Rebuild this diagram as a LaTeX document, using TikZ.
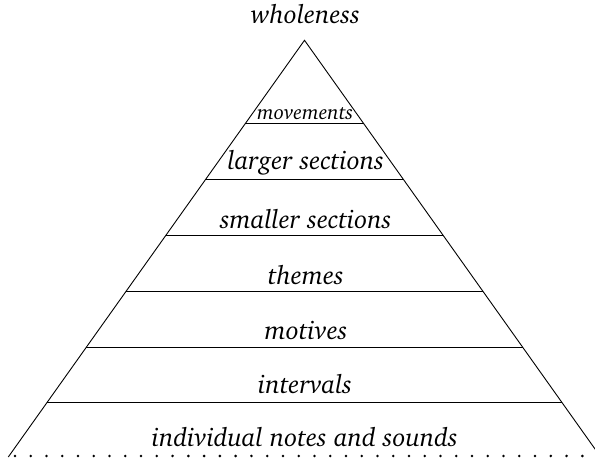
\documentclass[tikz,border=0pt]{standalone}
\usepackage[T1]{fontenc}
\usepackage{charter}
\usetikzlibrary{calc}

\tikzset{
  level/.style={font=\fontsize{26}{30}\selectfont\itshape, inner sep=0pt, anchor=base},
  small level/.style={font=\fontsize{20.5}{24}\selectfont\itshape, inner sep=0pt, anchor=base},
  divider/.style={line width=0.9pt},
  side/.style={line width=0.9pt},
}

\begin{document}
\begin{tikzpicture}[x=1pt,y=1pt]
  % page frame: 595 x 462, y measured upward from the bottom edge
  \useasboundingbox (0,0) rectangle (595,462);
  \clip (0,0) rectangle (595,462);

  % pyramid outline
  \coordinate (apex) at (304.5,421.7);
  \coordinate (L) at (8.3,5);
  \coordinate (R) at (600.7,5);
  \draw[side] (L) -- (apex) -- (R);

  % horizontal dividers between the levels
  \foreach \t [count=\i] in {0.1994,0.3336,0.4677,0.6019,0.7360,0.8699}{
    \coordinate (l\i) at ($(apex)!\t!(L)$);
    \coordinate (r\i) at ($(apex)!\t!(R)$);
    \draw[divider] (l\i) -- (r\i);
  }

  % dotted ground line
  \foreach \k in {0,...,36}{
    \fill ({15+\k*15.76},6) circle (1.4);
  }

  % level labels
  \node[level] (whole)    at (305.5,438.7) {wholeness};
  \node[small level] (mov) at (305.2,342.0) {movements};
  \node[level] (larger)   at (305.8,292.0) {larger sections};
  \node[level] (smaller)  at (305.8,233.7) {smaller sections};
  \node[level] (themes)   at (305.8,177.0) {themes};
  \node[level] (motives)  at (306.0,122.0) {motives};
  \node[level] (interv)   at (305.0,68.7)  {intervals};
  \node[level] (notes)    at (304.7,15.3)  {individual notes and sounds};
\end{tikzpicture}
\end{document}
